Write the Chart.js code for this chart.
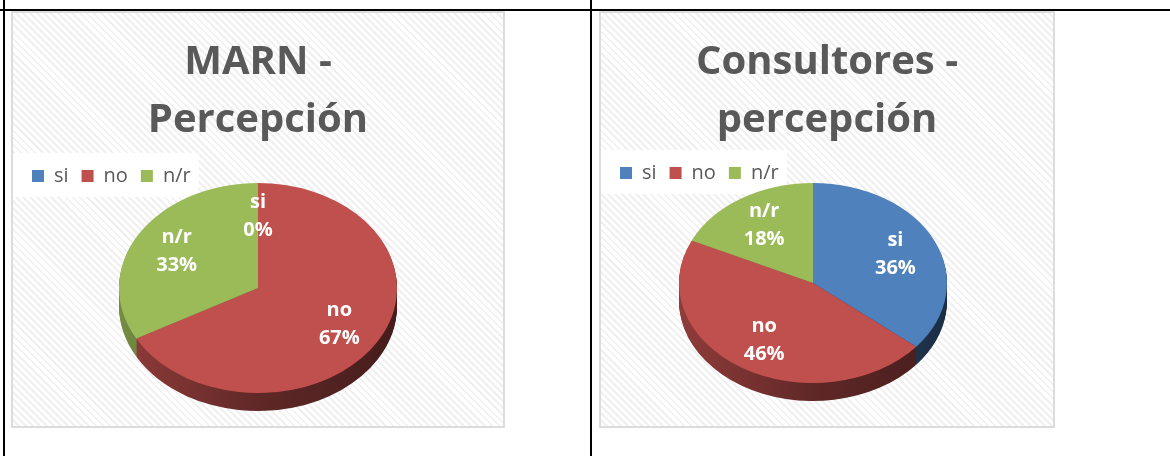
<!DOCTYPE html>
<html>
<head>
<meta charset="utf-8">
<script src="https://cdn.jsdelivr.net/npm/chart.js@4.4.1/dist/chart.umd.min.js"></script>
<style>
  body { margin: 0; width: 1170px; height: 456px; background: #fff; position: relative; overflow: hidden; }
  .rule { position: absolute; background: #000; }
  .box {
    position: absolute; top: 11px; height: 417px; box-sizing: border-box;
    border: 2px solid #dcdcdc;
    background-color: #fff;
    background-image: repeating-linear-gradient(45deg, #fff 0px, #fff 3px, #f0f0f0 3px, #f0f0f0 5px);
  }
  .box canvas { display: block; }
</style>
</head>
<body>
<div class="rule" style="left:0;top:9px;width:1170px;height:2px"></div>
<div class="rule" style="left:3px;top:0;width:2px;height:456px"></div>
<div class="rule" style="left:590px;top:0;width:2px;height:456px"></div>
<div class="box" style="left:11px;width:494px"><canvas id="marnChart"></canvas></div>
<div class="box" style="left:599px;width:456px"><canvas id="consChart"></canvas></div>
<script>
/*global Chart*/
var categories = ['si', 'no', 'n/r'];
var marnValues = [0, 67, 33];
var consultoresValues = [36, 46, 18];
var marnTitle = ['MARN -', 'Percepción'];
var consultoresTitle = ['Consultores -', 'percepción'];
var sliceColors = ['#4F81BD', '#C0504D', '#9BBB59'];

var FONT = "'Open Sans', sans-serif";
Chart.defaults.font.family = FONT;

function shade(hex, k) {
    var n = parseInt(hex.slice(1), 16);
    var r = Math.round(((n >> 16) & 255) * k);
    var g = Math.round(((n >> 8) & 255) * k);
    var b = Math.round((n & 255) * k);
    return 'rgb(' + r + ',' + g + ',' + b + ')';
}

//----------------------------------------------------------------
/* white panel behind the legend */
//----------------------------------------------------------------
var legendPanel = {
    id: 'legendPanel',
    beforeDraw: function (chart) {
        var lg = chart.legend, ctx = chart.ctx;
        var pad = lg.options.labels.padding;
        var midY = lg.top + pad + lg.options.labels.font.size / 2;
        ctx.save();
        ctx.fillStyle = '#fff';
        ctx.fillRect(0, midY - 23, lg.left + lg.lineWidths[0] + 8, 44);
        ctx.restore();
    }
};

//----------------------------------------------------------------
/* tilt the pie into an ellipse with a dark rim, then label it */
//----------------------------------------------------------------
var tiltPlugin = {
    id: 'tilt',
    beforeDatasetsDraw: function (chart, args, opts) {
        var ctx = chart.ctx;
        var arcs = chart.getDatasetMeta(0).data;
        var el0 = arcs[0];
        var r = el0.outerRadius;
        var place = function (d) {
            ctx.translate(el0.x + opts.dx, opts.cy + d);
            ctx.scale(opts.rx / r, opts.ry / r);
            ctx.translate(-el0.x, -el0.y);
        };
        for (var d = opts.depth; d > 0; d--) {
            ctx.save();
            place(d);
            arcs.forEach(function (el, i) {
                var c = sliceColors[i];
                var g = ctx.createLinearGradient(el0.x - r, 0, el0.x + r, 0);
                g.addColorStop(0, shade(c, 0.75));
                g.addColorStop(0.5, shade(c, 0.5));
                g.addColorStop(1, shade(c, 0.36));
                var side = Object.create(el);
                side.options = Object.assign({}, el.options, {backgroundColor: g, borderWidth: 0});
                side.draw(ctx);
            });
            ctx.restore();
        }
        ctx.save();
        place(0);
    },
    afterDatasetsDraw: function (chart, args, opts) {
        var ctx = chart.ctx;
        ctx.restore();
        var arcs = chart.getDatasetMeta(0).data;
        var vals = chart.data.datasets[0].data;
        var el0 = arcs[0];
        ctx.save();
        ctx.fillStyle = '#fff';
        ctx.font = 'bold 20px ' + FONT;
        ctx.textAlign = 'center';
        ctx.textBaseline = 'middle';
        arcs.forEach(function (el, i) {
            var mid = (el.startAngle + el.endAngle) / 2;
            var px = el0.x + opts.dx + opts.rx * opts.labelAt * Math.cos(mid);
            var py = opts.cy + opts.ry * opts.labelAt * Math.sin(mid);
            ctx.fillText(chart.data.labels[i], px, py - 14);
            ctx.fillText(vals[i] + '%', px, py + 14);
        });
        ctx.restore();
    }
};

function makePie(id, values, title, titleGap, tilt) {
    var ctx = document.getElementById(id).getContext('2d');
    return new Chart(ctx, {
        type: 'pie',
        data: {
            labels: categories,
            datasets: [{
                data: values,
                backgroundColor: sliceColors,
                borderWidth: 0,
                clip: false
            }]
        },
        options: {
            responsive: true,
            maintainAspectRatio: false,
            animation: false,
            events: [],
            layout: { padding: { left: 6, right: 6 } },
            plugins: {
                title: {
                    display: true,
                    text: title,
                    color: '#595959',
                    font: { size: 40, weight: 'bold', lineHeight: 1.45 },
                    padding: { top: 21, bottom: titleGap }
                },
                legend: {
                    display: true,
                    position: 'top',
                    align: 'start',
                    labels: {
                        boxWidth: 12,
                        boxHeight: 12,
                        padding: 13,
                        color: '#595959',
                        font: { size: 20 }
                    }
                },
                tooltip: { enabled: false },
                tilt: tilt
            }
        },
        plugins: [legendPanel, tiltPlugin]
    });
}

//----------------------------------------------------------------
/* MARN - Percepción */
//----------------------------------------------------------------
makePie('marnChart', marnValues, marnTitle, 3,
    { dx: 0, cy: 275, rx: 139, ry: 105, depth: 18, labelAt: 0.68 });

//----------------------------------------------------------------
/* Consultores - percepción */
//----------------------------------------------------------------
makePie('consChart', consultoresValues, consultoresTitle, 0,
    { dx: -14, cy: 270, rx: 134, ry: 100, depth: 18, labelAt: 0.68 });
</script>
</body>
</html>
